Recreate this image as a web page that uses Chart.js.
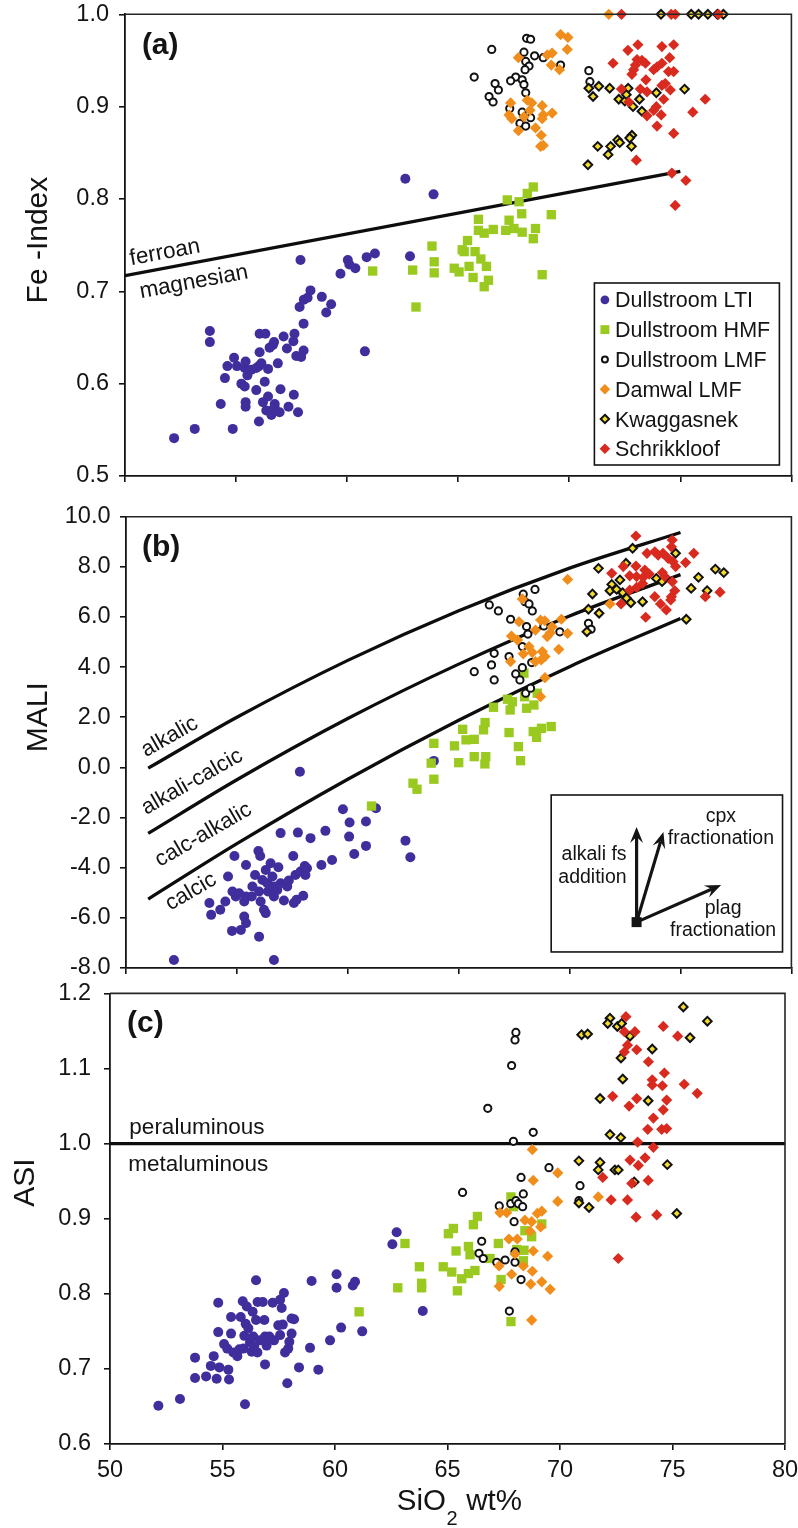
<!DOCTYPE html>
<html>
<head>
<meta charset="utf-8">
<title>Fe-index, MALI and ASI vs SiO2</title>
<script src="https://cdn.jsdelivr.net/npm/chart.js@4.4.1/dist/chart.umd.min.js"></script>
<style>
  html, body { margin:0; padding:0; background:#fff; }
  #wrap { position:relative; width:798px; height:1528px; overflow:hidden; background:#fff; }
  #wrap canvas { position:absolute; left:0; }
</style>
</head>
<body>
<div id="wrap">
  <canvas id="panelA" style="top:0px"></canvas>
  <canvas id="panelB" style="top:500px"></canvas>
  <canvas id="panelC" style="top:980px"></canvas>
</div>
<script>
// ======================= DATA =======================
const SERIES = ['Dullstroom LTI','Dullstroom HMF','Dullstroom LMF','Damwal LMF','Kwaggasnek','Schrikkloof'];
const X_TICKS = [50,55,60,65,70,75,80];
const A_Y_TICKS = [0.5,0.6,0.7,0.8,0.9,1.0];
const B_Y_TICKS = [-8,-6,-4,-2,0,2,4,6,8,10];
const C_Y_TICKS = [0.6,0.7,0.8,0.9,1.0,1.1,1.2];

// (a) Fe-index  [SiO2, FeO/(FeO+MgO)]
const A_LTI = [[52.21,.541],[53.14,.551],[53.82,.657],[53.82,.645],[54.31,.578],[54.50,.606],[54.61,.619],[54.85,.551],[54.91,.628],[55.04,.619],[55.24,.600],[55.39,.597],[55.39,.617],[55.43,.624],[55.43,.580],[55.43,.575],[55.51,.609],[55.69,.615],[55.91,.593],[56.03,.559],[56.06,.654],[56.06,.634],[56.03,.619],[55.91,.617],[56.14,.622],[56.29,.602],[56.21,.580],[56.32,.654],[56.44,.586],[56.36,.571],[56.44,.616],[56.51,.639],[56.60,.571],[56.59,.566],[56.66,.642],[56.71,.645],[56.74,.578],[56.74,.574],[56.88,.622],[56.96,.569],[57.00,.594],[57.14,.651],[57.29,.638],[57.36,.575],[57.58,.646],[57.63,.654],[57.60,.588],[57.79,.569],[57.71,.630],[57.93,.629],[58.04,.636],[58.04,.665],[57.86,.683],[58.05,.691],[58.22,.693],[58.35,.701],[57.90,.734],[58.86,.694],[59.06,.677],[59.28,.686],[59.70,.719],[60.03,.734],[60.10,.729],[60.37,.725],[60.80,.635],[60.88,.737],[61.25,.741],[62.62,.822],[63.89,.805],[62.83,.738]];
const A_HMF = [[61.15,.722],[62.95,.723],[63.10,.683],[63.92,.732],[63.92,.720],[64.82,.725],[65.04,.721],[65.49,.727],[65.67,.715],[66.17,.705],[66.36,.712],[66.02,.735],[66.27,.727],[68.78,.718],[65.27,.743],[65.76,.743],[63.82,.749],[65.18,.745],[65.42,.755],[65.91,.778],[65.91,.766],[66.17,.763],[66.58,.767],[67.14,.766],[67.21,.799],[67.29,.777],[67.51,.768],[67.74,.797],[67.86,.784],[67.88,.764],[68.11,.806],[68.38,.813],[68.48,.768],[68.38,.757],[69.19,.783]];
const A_LMF = [[66.51,.962],[65.72,.932],[68.08,.974],[68.26,.973],[67.96,.959],[68.44,.955],[68.83,.953],[68.04,.949],[68.19,.944],[68.01,.940],[69.61,.945],[67.59,.932],[67.36,.928],[67.88,.929],[67.96,.924],[66.66,.925],[66.81,.918],[68.04,.915],[66.39,.911],[66.57,.905],[67.32,.898],[67.88,.894],[68.26,.888],[67.78,.882],[68.04,.879],[70.88,.939],[70.93,.927]];
const A_DAM = [[71.78,1.0],[69.61,.978],[69.94,.975],[69.91,.962],[67.71,.953],[69.01,.956],[69.23,.958],[69.19,.945],[69.56,.940],[67.36,.904],[67.29,.891],[67.41,.887],[68.11,.907],[68.31,.904],[68.23,.896],[68.78,.901],[68.83,.891],[69.23,.893],[67.96,.889],[68.78,.887],[68.48,.877],[67.71,.874],[68.74,.869],[68.71,.857],[68.83,.858]];
const A_KWA = [[74.13,1.0],[75.49,1.0],[75.82,1.0],[76.24,1.0],[76.67,1.0],[76.94,1.0],[70.88,.920],[71.07,.911],[71.33,.922],[71.82,.920],[72.65,.920],[72.23,.908],[72.50,.906],[72.57,.913],[73.16,.908],[73.27,.895],[72.87,.900],[73.92,.915],[75.19,.919],[72.82,.869],[72.72,.866],[72.80,.857],[72.18,.864],[72.27,.861],[71.86,.857],[71.28,.857],[71.75,.848],[70.84,.837]];
const A_SCH = [[72.35,1.0],[74.59,1.0],[74.77,1.0],[76.72,1.0],[73.09,.967],[72.64,.961],[74.17,.965],[74.70,.967],[71.97,.947],[73.05,.951],[73.27,.950],[73.43,.947],[72.98,.945],[72.90,.940],[72.82,.935],[73.80,.940],[73.95,.943],[74.17,.947],[74.52,.953],[74.47,.938],[74.70,.938],[73.45,.929],[72.35,.919],[73.20,.919],[73.50,.916],[74.17,.923],[74.32,.925],[74.55,.918],[74.25,.908],[72.68,.905],[73.92,.900],[73.80,.896],[73.50,.890],[74.14,.891],[73.95,.879],[74.70,.871],[75.56,.894],[76.12,.908],[73.02,.842],[74.62,.828],[75.25,.820],[74.77,.793]];
const A_FERROAN_LINE = [[50,0.717],[75,0.830]];

// (b) MALI  [SiO2, Na2O+K2O-CaO]
const B_LTI = [[52.16,-7.68],[57.84,-0.17],[53.76,-5.41],[53.84,-5.88],[54.25,-5.68],[54.48,-5.35],[54.60,-4.35],[54.89,-3.53],[54.78,-6.52],[55.18,-6.48],[55.33,-5.95],[55.41,-6.21],[55.41,-3.89],[54.80,-4.95],[54.95,-5.15],[55.10,-5.02],[55.33,-5.35],[55.41,-5.15],[55.67,-5.15],[55.70,-4.75],[55.82,-4.29],[55.97,-3.33],[56.05,-3.53],[56.00,-4.95],[56.07,-5.35],[56.15,-4.49],[56.00,-6.75],[56.22,-5.68],[56.30,-5.81],[56.30,-4.09],[56.37,-4.62],[56.40,-4.95],[56.52,-3.82],[56.60,-4.35],[56.67,-5.15],[56.67,-4.75],[56.82,-4.89],[56.87,-3.98],[56.97,-2.62],[56.97,-4.62],[57.12,-5.31],[57.27,-4.75],[57.34,-4.51],[56.67,-7.68],[57.54,-3.53],[57.57,-5.41],[57.75,-2.60],[57.69,-5.28],[57.64,-4.29],[57.87,-4.15],[57.99,-5.12],[58.06,-3.93],[58.09,-4.29],[58.16,-4.02],[58.32,-2.82],[58.81,-3.89],[58.99,-2.53],[59.29,-3.69],[59.78,-1.67],[60.08,-2.20],[60.06,-2.76],[60.29,-3.45],[60.82,-2.16],[60.82,-3.13],[61.27,-1.63],[63.88,0.26],[62.60,-2.92],[62.82,-3.58]];
const B_HMF = [[61.07,-1.54],[62.94,-0.63],[63.12,-0.87],[63.76,0.17],[63.88,-0.47],[65.00,0.19],[65.70,0.43],[66.22,0.43],[66.18,0.14],[67.79,0.27],[63.88,0.96],[64.81,0.86],[65.18,1.52],[65.33,1.10],[65.70,1.12],[66.12,1.50],[66.19,1.79],[66.57,2.40],[67.20,2.72],[67.32,2.29],[67.42,2.62],[67.94,3.76],[67.97,2.82],[68.06,2.36],[68.39,2.49],[67.69,0.83],[67.27,1.39],[68.36,1.43],[68.51,1.20],[68.73,1.56],[69.17,1.63],[68.54,2.96]];
const B_LMF = [[66.38,6.48],[66.79,6.24],[67.91,6.91],[68.44,7.10],[67.99,6.61],[68.17,6.52],[68.32,6.24],[67.34,5.91],[68.06,5.62],[68.12,5.32],[68.84,5.64],[69.56,5.41],[67.87,4.82],[66.60,4.55],[67.27,4.42],[66.48,4.09],[65.70,3.82],[66.60,3.49],[67.57,3.73],[67.76,3.49],[67.87,3.98],[68.29,4.18],[68.02,2.96],[68.24,3.16],[70.85,5.75],[70.97,5.51]];
const B_DAM = [[69.91,7.50],[67.87,6.72],[67.72,5.81],[68.69,5.88],[68.88,5.85],[69.63,5.91],[69.21,5.61],[68.46,5.48],[69.13,5.37],[68.99,5.22],[69.91,5.35],[67.38,5.24],[67.65,5.08],[68.17,4.82],[69.51,4.71],[67.91,4.53],[68.32,4.58],[68.77,4.62],[68.89,4.42],[68.46,4.22],[68.72,4.29],[67.34,4.22],[68.89,3.58],[68.69,2.82],[71.82,6.52]];
const B_KWA = [[72.84,8.74],[71.30,7.94],[72.54,8.14],[74.78,8.54],[72.27,7.48],[71.90,7.30],[71.82,7.05],[72.12,7.10],[72.39,6.97],[71.03,6.92],[72.57,6.75],[72.76,6.57],[73.29,6.61],[70.85,6.31],[71.33,6.15],[70.78,5.41],[73.91,7.54],[74.17,7.41],[75.81,7.58],[75.48,7.14],[76.20,7.05],[76.57,7.91],[76.95,7.77],[75.26,5.91]];
const B_SCH = [[72.99,9.23],[74.63,9.07],[74.59,8.80],[73.49,8.54],[73.84,8.60],[73.99,8.47],[74.21,8.54],[74.44,8.34],[75.60,8.54],[75.23,8.17],[74.66,8.21],[74.78,8.01],[71.90,7.74],[72.42,8.01],[72.99,8.03],[73.39,7.87],[72.71,7.64],[73.02,7.61],[73.32,7.58],[73.59,7.71],[74.18,7.77],[74.29,7.61],[73.29,7.34],[73.02,7.18],[72.71,7.07],[74.63,7.41],[74.74,7.05],[74.59,6.81],[74.56,6.68],[73.84,6.81],[72.32,6.52],[74.10,6.52],[74.36,6.28],[73.43,5.99],[76.12,6.81],[76.78,6.99]];
const B_ALKALIC_LINE = [[51,-0.03],[55,2.00],[60,4.27],[65,6.25],[70,7.95],[75,9.37]];
const B_ALKCALC_LINE = [[51,-2.63],[55,-0.49],[60,1.95],[65,4.12],[70,6.04],[75,7.69]];
const B_CALCALK_LINE = [[51,-5.25],[55,-3.04],[60,-0.47],[65,1.88],[70,4.02],[75,5.94]];

// (c) ASI  [SiO2, Al/(Ca-1.67P+Na+K)]
const C_LTI = [[52.15,.651],[53.11,.660],[56.00,.653],[53.78,.715],[53.78,.688],[54.27,.690],[54.48,.704],[54.61,.717],[54.74,.687],[54.86,.702],[54.81,.788],[54.81,.749],[55.07,.733],[55.21,.727],[55.26,.699],[55.29,.686],[55.38,.769],[55.38,.747],[55.48,.722],[55.66,.717],[55.75,.726],[55.81,.769],[55.90,.790],[55.93,.727],[55.97,.744],[56.03,.760],[56.08,.783],[56.15,.754],[56.22,.735],[56.30,.723],[56.34,.776],[56.37,.743],[56.41,.730],[56.49,.818],[56.49,.765],[56.56,.789],[56.55,.722],[56.67,.738],[56.79,.789],[56.86,.765],[56.89,.706],[56.89,.743],[56.96,.731],[57.08,.743],[57.23,.788],[57.29,.738],[57.48,.758],[57.56,.745],[57.56,.792],[57.63,.781],[57.68,.759],[57.73,.801],[57.78,.722],[57.88,.681],[57.92,.727],[57.97,.736],[58.07,.747],[58.07,.767],[58.18,.766],[58.40,.702],[58.89,.728],[58.96,.817],[59.26,.699],[59.78,.738],[60.07,.826],[60.07,.808],[60.27,.755],[60.79,.811],[60.89,.816],[61.21,.750],[62.74,.882],[62.55,.866],[63.90,.777]];
const C_HMF = [[61.07,.776],[62.79,.808],[63.11,.867],[63.75,.836],[64.81,.836],[65.04,.880],[65.26,.887],[65.38,.857],[65.93,.863],[66.00,.852],[66.15,.892],[66.33,.903],[67.26,.867],[66.89,.847],[67.82,.929],[67.93,.916],[68.44,.884],[68.74,.876],[69.19,.893],[68.08,.859],[68.40,.858],[68.37,.844],[63.85,.814],[63.85,.808],[65.19,.829],[65.44,.804],[65.63,.820],[65.93,.827],[66.22,.831],[67.38,.819],[67.82,.763]];
const C_LMF = [[68.04,1.148],[68.00,1.138],[67.85,1.104],[66.79,1.047],[68.81,1.015],[67.93,1.003],[69.51,.968],[68.27,.955],[65.67,.935],[68.37,.933],[70.89,.944],[67.30,.917],[67.81,.920],[68.04,.924],[68.15,.920],[68.34,.916],[70.84,.924],[67.96,.896],[66.52,.870],[66.40,.854],[66.59,.847],[67.19,.842],[67.56,.845],[68.00,.842],[68.00,.856],[68.27,.819],[67.75,.777]];
const C_DAM = [[68.77,.992],[68.81,.951],[69.90,.961],[69.90,.923],[71.70,.929],[67.33,.908],[67.63,.908],[68.99,.907],[69.19,.910],[68.44,.898],[68.74,.896],[69.14,.889],[68.67,.883],[67.73,.873],[68.10,.873],[68.00,.853],[68.81,.857],[69.45,.850],[67.29,.837],[68.37,.837],[67.30,.810],[67.85,.826],[68.70,.813],[69.19,.816],[69.56,.806],[68.74,.765],[68.77,.830]];
const C_KWA = [[75.48,1.182],[76.55,1.163],[72.22,1.167],[72.12,1.160],[72.55,1.156],[72.74,1.160],[73.11,1.143],[70.96,1.145],[71.23,1.146],[75.78,1.141],[74.10,1.126],[72.71,1.114],[72.79,1.086],[71.78,1.060],[73.92,1.057],[72.22,1.012],[72.70,1.008],[70.84,.977],[71.78,.975],[71.70,.965],[72.44,.965],[72.59,.965],[74.77,.972],[73.30,.949],[70.84,.921],[71.29,.915],[75.19,.907]];
const C_SCH = [[72.93,1.169],[73.33,1.149],[72.86,1.149],[74.59,1.156],[75.23,1.143],[73.00,1.131],[72.86,1.122],[73.41,1.125],[73.93,1.109],[74.64,1.094],[74.10,1.085],[74.10,1.078],[74.55,1.077],[75.52,1.079],[76.10,1.067],[72.34,1.063],[73.41,1.060],[73.07,1.050],[74.74,1.058],[74.59,1.045],[74.15,1.034],[73.90,1.019],[74.52,1.019],[74.74,1.020],[73.45,1.002],[74.15,.995],[73.11,.978],[73.78,.981],[73.48,.971],[71.90,.955],[73.92,.951],[73.19,.947],[72.27,.925],[73.00,.925],[73.38,.902],[74.30,.905],[72.59,.847]];
const C_PERALUM_LINE = [[50,1.0],[80,1.0]];

// ======================= STYLE / DRAWING =======================
const FONT = "'Liberation Sans', Arial, Helvetica, sans-serif";
const INK = '#141414';
const STYLE = [
  {pointStyle:'circle',  pointRadius:5.0, backgroundColor:'#3f2e9c', borderColor:'#3f2e9c', borderWidth:0},
  {pointStyle:'rect',    pointRadius:6.6, backgroundColor:'#9aca20', borderColor:'#9aca20', borderWidth:0},
  {pointStyle:'circle',  pointRadius:3.6, backgroundColor:'#ffffff', borderColor:'#111111', borderWidth:2},
  {pointStyle:'rectRot', pointRadius:5.6, backgroundColor:'#f08d1b', borderColor:'#f08d1b', borderWidth:0},
  {pointStyle:'rectRot', pointRadius:4.3, backgroundColor:'#f4dc2c', borderColor:'#111111', borderWidth:2},
  {pointStyle:'rectRot', pointRadius:5.6, backgroundColor:'#d92a1f', borderColor:'#d92a1f', borderWidth:0}
];

const toPts = arr => arr.map(p => ({x:p[0], y:p[1]}));

function txt(ctx, s, x, y, size, o) {
  o = o || {};
  ctx.save();
  ctx.font = (o.bold ? 'bold ' : '') + size + 'px ' + FONT;
  ctx.fillStyle = o.color || INK;
  ctx.textAlign = o.align || 'left';
  ctx.textBaseline = o.baseline || 'middle';
  ctx.translate(x, y);
  if (o.rot) ctx.rotate(o.rot * Math.PI / 180);
  ctx.fillText(s, 0, 0);
  ctx.restore();
}
function px(chart, x, y) { return [chart.scales.x.getPixelForValue(x), chart.scales.y.getPixelForValue(y)]; }
function frame(chart) {
  const {ctx, chartArea:a} = chart;
  ctx.save(); ctx.strokeStyle = '#262626'; ctx.lineWidth = 1.6;
  ctx.beginPath(); ctx.moveTo(a.left, a.top); ctx.lineTo(a.right, a.top); ctx.lineTo(a.right, a.bottom); ctx.stroke();
  ctx.restore();
}
function marker(ctx, st, x, y, r) {
  ctx.save();
  ctx.fillStyle = st.backgroundColor; ctx.strokeStyle = st.borderColor; ctx.lineWidth = st.borderWidth;
  ctx.beginPath();
  if (st.pointStyle === 'circle') ctx.arc(x, y, r, 0, Math.PI * 2);
  else if (st.pointStyle === 'rect') { const s = r * Math.SQRT1_2; ctx.rect(x - s, y - s, 2 * s, 2 * s); }
  else { ctx.moveTo(x, y - r); ctx.lineTo(x + r, y); ctx.lineTo(x, y + r); ctx.lineTo(x - r, y); ctx.closePath(); }
  ctx.fill(); if (st.borderWidth > 0) ctx.stroke();
  ctx.restore();
}
function arrow(ctx, x0, y0, x1, y1) {
  const a = Math.atan2(y1 - y0, x1 - x0), c = Math.cos(a), s = Math.sin(a);
  const L = 16, W = 6.5, N = 0.62;
  ctx.beginPath(); ctx.moveTo(x0, y0); ctx.lineTo(x1 - L * N * c, y1 - L * N * s); ctx.stroke();
  ctx.beginPath();
  ctx.moveTo(x1, y1);
  ctx.lineTo(x1 - L * c - W * s, y1 - L * s + W * c);
  ctx.lineTo(x1 - L * N * c, y1 - L * N * s);
  ctx.lineTo(x1 - L * c + W * s, y1 - L * s - W * c);
  ctx.closePath(); ctx.fill();
}

function drawA(chart) {
  const ctx = chart.ctx, a = chart.chartArea;
  frame(chart);
  let p = px(chart, 50.76, 0.9657); txt(ctx, '(a)', p[0], p[1], 30, {bold:true});
  p = px(chart, 51.80, 0.742); txt(ctx, 'ferroan', p[0], p[1], 22.5, {align:'center', rot:-10.5});
  p = px(chart, 53.10, 0.710); txt(ctx, 'magnesian', p[0], p[1], 22.5, {align:'center', rot:-10.5});
  // legend
  const L = a.right - 197, T = a.bottom - 193, W = 185, H = 182;
  ctx.save(); ctx.fillStyle = '#fff'; ctx.fillRect(L, T, W, H);
  ctx.strokeStyle = INK; ctx.lineWidth = 1.6; ctx.strokeRect(L, T, W, H); ctx.restore();
  const mr = [4.4, 6.3, 3.0, 5.3, 4.2, 5.3];
  SERIES.forEach((name, i) => {
    const yb = T + 24.3 + i * 29.8;
    marker(ctx, STYLE[i], L + 10.5, yb - 7.5, mr[i]);
    txt(ctx, name, L + 20.5, yb, 21.5, {baseline:'alphabetic'});
  });
  txt(ctx, 'Fe -Index', 39, chart.scales.y.getPixelForValue(0.7555), 30, {align:'center', rot:-90});
}

function drawB(chart) {
  const ctx = chart.ctx;
  frame(chart);
  let p = px(chart, 50.72, 8.75); txt(ctx, '(b)', p[0], p[1], 30, {bold:true});
  p = px(chart, 51.97, 1.22);  txt(ctx, 'alkalic', p[0], p[1], 22, {align:'center', rot:-29.5});
  p = px(chart, 52.98, -0.58); txt(ctx, 'alkali-calcic', p[0], p[1], 22, {align:'center', rot:-29.5});
  p = px(chart, 53.49, -2.69); txt(ctx, 'calc-alkalic', p[0], p[1], 22, {align:'center', rot:-30});
  p = px(chart, 52.93, -4.96); txt(ctx, 'calcic', p[0], p[1], 22, {align:'center', rot:-30});
  // inset box with fractionation vectors
  const b1 = px(chart, 69.17, -1.10), b2 = px(chart, 79.60, -7.36);
  ctx.save(); ctx.fillStyle = '#fff'; ctx.fillRect(b1[0], b1[1], b2[0] - b1[0], b2[1] - b1[1]);
  ctx.strokeStyle = INK; ctx.lineWidth = 1.6; ctx.strokeRect(b1[0], b1[1], b2[0] - b1[0], b2[1] - b1[1]);
  const o = px(chart, 73.02, -6.17);
  ctx.fillStyle = INK; ctx.strokeStyle = INK; ctx.lineWidth = 3.2;
  let t = px(chart, 73.02, -2.38); arrow(ctx, o[0], o[1], t[0], t[1]);
  t = px(chart, 74.23, -2.58); arrow(ctx, o[0], o[1], t[0], t[1]);
  t = px(chart, 76.83, -4.69); arrow(ctx, o[0], o[1], t[0], t[1]);
  ctx.fillRect(o[0] - 5, o[1] - 5, 10, 10);
  ctx.restore();
  p = px(chart, 72.57, -3.49); txt(ctx, 'alkali fs', p[0], p[1], 19.5, {align:'right'});
  p = px(chart, 72.57, -4.41); txt(ctx, 'addition', p[0], p[1], 19.5, {align:'right'});
  p = px(chart, 76.82, -1.96); txt(ctx, 'cpx', p[0], p[1], 19.5, {align:'center'});
  p = px(chart, 76.82, -2.85); txt(ctx, 'fractionation', p[0], p[1], 19.5, {align:'center'});
  p = px(chart, 76.92, -5.64); txt(ctx, 'plag', p[0], p[1], 19.5, {align:'center'});
  p = px(chart, 76.92, -6.51); txt(ctx, 'fractionation', p[0], p[1], 19.5, {align:'center'});
  txt(ctx, 'MALI', 39, chart.scales.y.getPixelForValue(2.0), 30, {align:'center', rot:-90});
}

function drawC(chart) {
  const ctx = chart.ctx, a = chart.chartArea;
  frame(chart);
  let p = px(chart, 50.76, 1.159); txt(ctx, '(c)', p[0], p[1], 30, {bold:true});
  p = px(chart, 50.86, 1.0124); txt(ctx, 'peraluminous', p[0], p[1], 22.5, {baseline:'alphabetic'});
  p = px(chart, 50.81, 0.964);  txt(ctx, 'metaluminous', p[0], p[1], 22.5, {baseline:'alphabetic'});
  txt(ctx, 'ASI', 25.5, chart.scales.y.getPixelForValue(0.948), 30, {align:'center', rot:-90});
  // x-axis title with subscript
  const base = a.bottom + 66, x0 = 396.7;
  ctx.save(); ctx.font = '29.5px ' + FONT; const w1 = ctx.measureText('SiO').width; ctx.restore();
  txt(ctx, 'SiO', x0, base, 29.5, {baseline:'alphabetic'});
  ctx.save(); ctx.font = '20px ' + FONT; const w2 = ctx.measureText('2').width; ctx.restore();
  txt(ctx, '2', x0 + w1 + 0.5, base + 15, 20, {baseline:'alphabetic'});
  txt(ctx, ' wt%', x0 + w1 + w2 + 1, base, 29.5, {baseline:'alphabetic'});
}

function makePanel(id, cfg) {
  const cv = document.getElementById(id);
  cv.width = 798; cv.height = cfg.h;
  cv.style.width = '798px'; cv.style.height = cfg.h + 'px';
  const datasets = [];
  cfg.lines.forEach(l => datasets.push({
    data: toPts(l), showLine: true, borderColor: '#0d0d0d', backgroundColor: '#0d0d0d',
    borderWidth: 3.3, pointRadius: 0, fill: false, cubicInterpolationMode: 'monotone', order: 10
  }));
  cfg.series.forEach((s, i) => datasets.push(Object.assign({
    label: SERIES[i], data: toPts(s), order: 6 - i, clip: false, showLine: false
  }, STYLE[i])));
  return new Chart(cv, {
    type: 'scatter',
    data: {datasets},
    options: {
      responsive: false, animation: false, devicePixelRatio: 1, events: [],
      layout: {padding: {left: 0, top: cfg.top, right: 798 - cfg.right, bottom: 0}},
      plugins: {legend: {display: false}, tooltip: {enabled: false}},
      scales: {
        x: {
          type: 'linear', position: 'bottom', min: 50, max: 80,
          afterBuildTicks(s) { s.ticks = X_TICKS.map(v => ({value: v})); },
          ticks: {display: cfg.xLabels, font: {family: FONT, size: 23.5}, color: INK, padding: 6.4, maxRotation: 0, autoSkip: false,
                  callback: v => String(v)},
          grid: {drawOnChartArea: false, drawTicks: true, tickLength: 6, color: INK, lineWidth: 1.6},
          border: {display: true, color: INK, width: 1.8},
          afterFit(s) { s.height = cfg.h - cfg.bottom; s.paddingLeft = 0; s.paddingRight = 0; }
        },
        y: {
          type: 'linear', position: 'left', min: cfg.ymin, max: cfg.ymax,
          afterBuildTicks(s) { s.ticks = cfg.yticks.map(v => ({value: v})); },
          ticks: {font: {family: FONT, size: 23.5}, color: INK, padding: cfg.ypad, autoSkip: false,
                  callback: v => Number(v).toFixed(1)},
          grid: {drawOnChartArea: false, drawTicks: true, tickLength: 6, color: INK, lineWidth: 1.6},
          border: {display: true, color: INK, width: 1.8},
          afterFit(s) { s.width = cfg.left; s.paddingTop = 0; s.paddingBottom = 0; }
        }
      }
    },
    plugins: [{id: 'deco_' + id, afterDraw(chart) { cfg.draw(chart); }}]
  });
}

makePanel('panelA', {h: 500, top: 14.3, bottom: 476, left: 125, right: 794, ymin: 0.5, ymax: 1.0, yticks: A_Y_TICKS, ypad: 10,
  xLabels: false, lines: [A_FERROAN_LINE], series: [A_LTI, A_HMF, A_LMF, A_DAM, A_KWA, A_SCH], draw: drawA});
makePanel('panelB', {h: 480, top: 16.7, bottom: 468, left: 126, right: 796, ymin: -8, ymax: 10, yticks: B_Y_TICKS, ypad: 9.5,
  xLabels: false, lines: [B_ALKALIC_LINE, B_ALKCALC_LINE, B_CALCALK_LINE], series: [B_LTI, B_HMF, B_LMF, B_DAM, B_KWA, B_SCH], draw: drawB});
makePanel('panelC', {h: 548, top: 13.4, bottom: 464, left: 110, right: 785, ymin: 0.6, ymax: 1.2, yticks: C_Y_TICKS, ypad: 13,
  xLabels: true, lines: [C_PERALUM_LINE], series: [C_LTI, C_HMF, C_LMF, C_DAM, C_KWA, C_SCH], draw: drawC});
</script>
</body>
</html>
